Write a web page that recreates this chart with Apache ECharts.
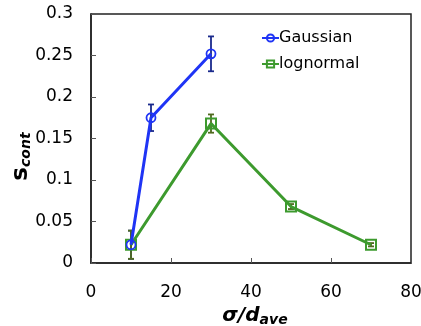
<!DOCTYPE html>
<html><head><meta charset="utf-8">
<script src="https://cdn.jsdelivr.net/npm/echarts@6/dist/echarts.min.js"></script>
<style>html,body{margin:0;padding:0;background:#fff}#c{width:421px;height:326px}</style>
</head><body><div id="c"></div>
<script>
const gaussX = [10, 15, 30];
const gaussY = [0.022, 0.175, 0.252];
const gaussErr = [0.017, 0.016, 0.021];
const logX = [10, 30, 50, 70];
const logY = [0.022, 0.168, 0.068, 0.022];
const logErr = [0.017, 0.011, 0.003, 0.002];
const xTicks = [0, 20, 40, 60, 80];
const yTicks = [0, 0.05, 0.1, 0.15, 0.2, 0.25, 0.3];

const font = 'DejaVu Sans';
function errData(xs, ys, es){ return xs.map((x,i)=>[x, ys[i]-es[i], ys[i]+es[i]]); }
function errSeries(name, data, color){
  return {
    type:'custom', name: name, z: 1, silent:true,
    data: data,
    renderItem: function(params, api){
      const lo = api.coord([api.value(0), api.value(1)]);
      const hi = api.coord([api.value(0), api.value(2)]);
      const w = 3;
      const st = {stroke: color, lineWidth: 1.8};
      return {type:'group', children:[
        {type:'line', shape:{x1:lo[0], y1:lo[1], x2:hi[0], y2:hi[1]}, style:st},
        {type:'line', shape:{x1:lo[0]-w, y1:lo[1], x2:lo[0]+w, y2:lo[1]}, style:st},
        {type:'line', shape:{x1:hi[0]-w, y1:hi[1], x2:hi[0]+w, y2:hi[1]}, style:st}
      ]};
    }
  };
}
const chart = echarts.init(document.getElementById('c'));
chart.setOption({
  animation:false,
  backgroundColor:'#fff',
  grid:{left:91, right:10, top:14, bottom:63, outerBoundsMode:'none', containLabel:false,
    show:true, borderColor:'#222', borderWidth:1.5, backgroundColor:'transparent'},
  legend:{
    data:['Gaussian','lognormal'], orient:'vertical', left:256, top:25,
    itemWidth:17, itemHeight:9, itemGap:10,
    textStyle:{fontFamily:font, fontSize:16, color:'#000', padding:[0,0,0,-5]}
  },
  xAxis:{
    type:'value', min:xTicks[0], max:xTicks[xTicks.length-1], interval:20,
    axisLine:{show:true, lineStyle:{color:'#222', width:1.5}},
    axisTick:{show:true, inside:true, length:5, lineStyle:{color:'#555'}},
    splitLine:{show:false},
    axisLabel:{fontFamily:font, fontSize:17, color:'#000', margin:21},
    name:'{a|σ/d}{b|ave}', nameLocation:'middle', nameGap:38,
    nameTextStyle:{rich:{
      a:{fontFamily:font, fontSize:20, fontWeight:'bold', fontStyle:'italic', color:'#000'},
      b:{fontFamily:font, fontSize:14, fontWeight:'bold', fontStyle:'italic', color:'#000', verticalAlign:'bottom', padding:[8,0,0,0]}
    }, padding:[0,0,0,8]}
  },
  yAxis:{
    type:'value', min:0, max:0.3, interval:0.05,
    axisLine:{show:true, lineStyle:{color:'#222', width:1.5}},
    axisTick:{show:true, inside:true, length:5, lineStyle:{color:'#555'}},
    splitLine:{show:false},
    axisLabel:{fontFamily:font, fontSize:17, color:'#000', margin:18,
      formatter:function(v){ const t = yTicks.find(y=>Math.abs(y-v)<1e-9); return t===undefined? '' : String(t); }},
    name:'{a|s}{b|cont}', nameLocation:'middle', nameGap:58, nameMoveOverlap:false,
    nameTextStyle:{rich:{
      a:{fontFamily:font, fontSize:23, fontWeight:'bold', color:'#000'},
      b:{fontFamily:font, fontSize:14, fontWeight:'bold', fontStyle:'italic', color:'#000', verticalAlign:'bottom', padding:[10,0,0,0]}
    }, padding:[0,36,0,0]}
  },
  series:[
    errSeries('gErr', errData(gaussX, gaussY, gaussErr), '#1a2a8c'),
    errSeries('lErr', errData(logX, logY, logErr), '#4f6a1e'),
    {
      name:'Gaussian', type:'line', z:3,
      data: gaussX.map((x,i)=>[x, gaussY[i]]),
      symbol:'circle', symbolSize:9, showAllSymbol:true,
      lineStyle:{color:'#1f34f5', width:3},
      itemStyle:{color:'rgba(255,255,255,0)', borderColor:'#1f34f5', borderWidth:1.8}
    },
    {
      name:'lognormal', type:'line', z:2,
      data: logX.map((x,i)=>[x, logY[i]]),
      symbol:'rect', symbolSize:10, showAllSymbol:true,
      lineStyle:{color:'#3d9a2e', width:3},
      itemStyle:{color:'rgba(255,255,255,0)', borderColor:'#3d9a2e', borderWidth:2}
    }
  ]
});
</script></body></html>
